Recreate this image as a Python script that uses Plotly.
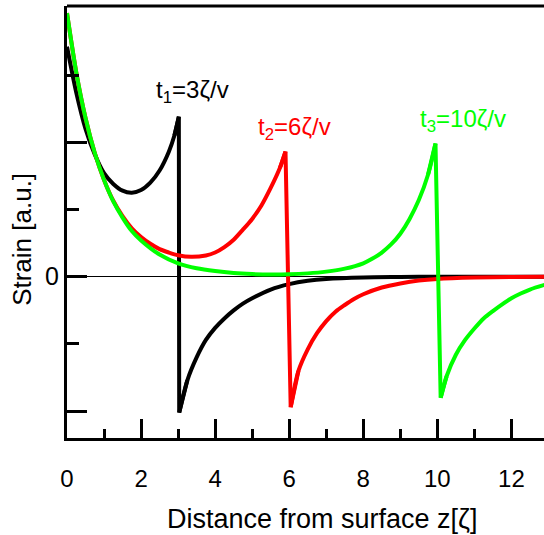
import plotly.graph_objects as go

# Strain profiles (arbitrary units) versus depth z (in units of the absorption length zeta)
# for three propagation times; each profile has a surface-decay branch, a sharp front and a tail.
z_t1 = [0, 0.25, 0.5, 0.75, 1.0, 1.25, 1.5, 1.75, 2.0, 2.25, 2.5, 2.75, 2.9, 3.02,
        3.03, 3.25, 3.5, 3.75, 4.0, 4.25, 4.5, 4.75, 5.0, 5.5, 6.0, 6.5, 7.0, 8.0, 9.0, 10.0, 11.0, 12.0, 12.9]
s_t1 = [1.71, 1.37, 1.10, 0.91, 0.77, 0.69, 0.64, 0.625, 0.645, 0.70, 0.79, 0.93, 1.05, 1.19,
        -1.01, -0.77, -0.60, -0.47, -0.38, -0.31, -0.25, -0.20, -0.16, -0.095, -0.055, -0.03, -0.016, -0.005, -0.002, 0, 0, 0, 0]

z_t2 = [0, 0.25, 0.5, 0.75, 1.0, 1.25, 1.5, 1.75, 2.0, 2.25, 2.5, 2.75, 3.0, 3.35, 3.75, 4.0, 4.25,
        4.5, 4.75, 5.0, 5.25, 5.5, 5.75, 5.9,
        6.04, 6.25, 6.5, 6.75, 7.0, 7.25, 7.5, 7.75, 8.0, 8.5, 9.0, 9.5, 10.0, 11.0, 12.0, 12.9]
s_t2 = [1.96, 1.52, 1.18, 0.92, 0.72, 0.565, 0.45, 0.36, 0.295, 0.245, 0.205, 0.18, 0.16, 0.148, 0.158, 0.18, 0.22,
        0.275, 0.35, 0.43, 0.53, 0.66, 0.81, 0.93,
        -0.97, -0.70, -0.54, -0.42, -0.33, -0.26, -0.21, -0.165, -0.13, -0.08, -0.05, -0.028, -0.016, -0.006, -0.002, 0]

z_t3 = [0, 0.25, 0.5, 0.75, 1.0, 1.25, 1.5, 1.75, 2.0, 2.5, 3.0, 3.5, 4.0, 4.5, 5.0, 5.5, 6.0, 6.5,
        7.0, 7.5, 8.0, 8.25, 8.5, 8.75, 9.0, 9.25, 9.5, 9.75, 9.95,
        10.09, 10.25, 10.5, 10.75, 11.0, 11.25, 11.5, 11.75, 12.0, 12.25, 12.5, 12.9]
s_t3 = [1.96, 1.52, 1.18, 0.92, 0.72, 0.56, 0.44, 0.34, 0.27, 0.165, 0.10, 0.063, 0.042, 0.028, 0.02, 0.016, 0.018, 0.025,
        0.038, 0.06, 0.10, 0.135, 0.18, 0.24, 0.32, 0.43, 0.57, 0.76, 0.99,
        -0.90, -0.74, -0.58, -0.47, -0.385, -0.31, -0.255, -0.205, -0.16, -0.125, -0.095, -0.06]

series = [
    ("t1", z_t1, s_t1, "#000000"),
    ("t2", z_t2, s_t2, "#ff0000"),
    ("t3", z_t3, s_t3, "#00ff00"),
]

x_major = [0, 2, 4, 6, 8, 10, 12]
x_minor = [1, 3, 5, 7, 9, 11, 13]
y_major = [-1, 0, 1]
y_major_text = ["", "0", ""]
y_minor = [-0.5, 0.5, 1.5]

FONT = "Liberation Sans, Arial, sans-serif"


def front_index(s):
    """Index of the first point after the sharp front (where strain jumps negative)."""
    for i in range(1, len(s)):
        if s[i] < 0 and s[i - 1] > 0.5:
            return i
    return len(s)


fig = go.Figure()
for name, z, s, color in series:
    k = front_index(s)
    line_smooth = dict(color=color, width=4, shape="spline", smoothing=0.8)
    # smooth branch ahead of the front
    fig.add_trace(go.Scatter(x=z[:k], y=s[:k], mode="lines", name=name,
                             line=line_smooth, showlegend=False, hoverinfo="skip"))
    # smooth tail behind the front
    fig.add_trace(go.Scatter(x=z[k:], y=s[k:], mode="lines", name=name,
                             line=line_smooth, showlegend=False, hoverinfo="skip"))
    # the sharp front itself, as straight segments
    fig.add_trace(go.Scatter(x=z[k - 2:k + 2], y=s[k - 2:k + 2], mode="lines", name=name,
                             line=dict(color=color, width=4), showlegend=False, hoverinfo="skip"))

fig.update_layout(
    width=544, height=535,
    margin=dict(l=67, r=0, t=6, b=97),
    paper_bgcolor="white", plot_bgcolor="white",
    font=dict(family=FONT, color="black"),
    showlegend=False,
)

fig.update_xaxes(
    range=[0, 12.88], showgrid=False, zeroline=False,
    showline=True, linecolor="black", linewidth=3,
    tickmode="array", tickvals=x_major, ticktext=[str(v) for v in x_major],
    ticks="inside", ticklen=19, tickwidth=3, tickcolor="black",
    tickfont=dict(size=24, family=FONT, color="black"),
    ticklabelstandoff=17,
    minor=dict(tickmode="array", tickvals=x_minor, ticks="inside", ticklen=9,
               tickwidth=3, tickcolor="black", showgrid=False),
)

fig.update_yaxes(
    range=[-1.199, 2.013], showgrid=False,
    zeroline=True, zerolinecolor="black", zerolinewidth=1.3,
    showline=True, linecolor="black", linewidth=3,
    tickmode="array", tickvals=y_major, ticktext=y_major_text,
    ticks="inside", ticklen=20, tickwidth=3, tickcolor="black",
    tickfont=dict(size=25, family=FONT, color="black"),
    minor=dict(tickmode="array", tickvals=y_minor, ticks="inside", ticklen=12,
               tickwidth=3, tickcolor="black", showgrid=False),
)

# top frame line
fig.add_shape(type="line", xref="paper", yref="paper", x0=0, x1=1, y0=1, y1=1,
              line=dict(color="black", width=3))

# axis titles
fig.add_annotation(text="Distance from surface z[ζ]", xref="paper", yref="paper",
                   x=0.5357, y=-0.187, xanchor="center", yanchor="middle",
                   showarrow=False, font=dict(size=27, family=FONT, color="black"))
fig.add_annotation(text="Strain [a.u.]", xref="paper", yref="paper",
                   x=-0.094, y=0.459, xanchor="center", yanchor="middle", textangle=-90,
                   showarrow=False, font=dict(size=26, family=FONT, color="black"))

# curve labels
labels = [
    ("t<sub>1</sub>=3ζ/v", 3.40, 1.38, "#000000"),
    ("t<sub>2</sub>=6ζ/v", 6.14, 1.10, "#ff0000"),
    ("t<sub>3</sub>=10ζ/v", 10.69, 1.16, "#00ff00"),
]
for text, lx, ly, color in labels:
    fig.add_annotation(text=text, x=lx, y=ly, xref="x", yref="y",
                       xanchor="center", yanchor="middle", showarrow=False,
                       font=dict(size=24, family=FONT, color=color))

fig.write_html("out.html")
